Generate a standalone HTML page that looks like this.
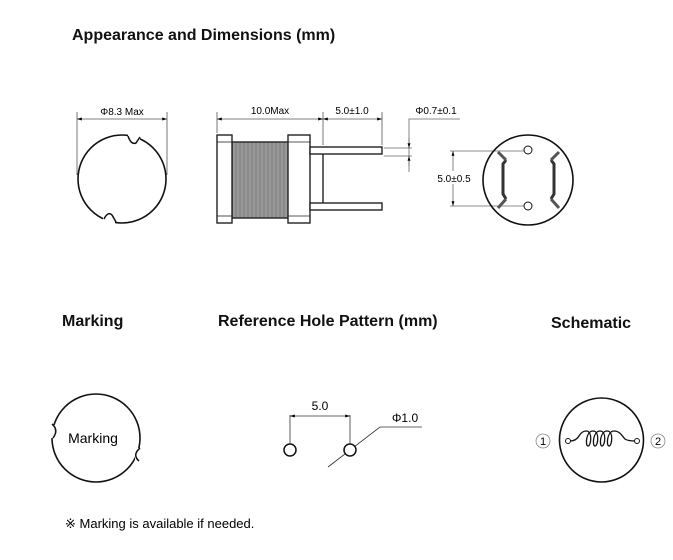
<!DOCTYPE html>
<html><head><meta charset="utf-8"><style>
body{margin:0;background:#fff;}
svg{display:block;font-family:"Liberation Sans",sans-serif;}
</style></head><body>
<svg width="673" height="560" viewBox="0 0 673 560" xmlns="http://www.w3.org/2000/svg">
<defs>
<marker id="a" viewBox="0 0 10 10" refX="10" refY="5" markerWidth="6" markerHeight="6" orient="auto-start-reverse"><path d="M0,2 L10,5 L0,8z" fill="#000"/></marker>
</defs>
<g font-weight="bold" font-size="16" fill="#111">
<text x="72" y="40">Appearance and Dimensions (mm)</text>
<text x="62" y="326">Marking</text>
<text x="218" y="326">Reference Hole Pattern (mm)</text>
<text x="551" y="328">Schematic</text>
</g>
<!-- left circle -->
<g stroke="#555" stroke-width="0.8" fill="none">
<line x1="77" y1="112" x2="77" y2="175"/><line x1="167" y1="112" x2="167" y2="175"/>
<line x1="77" y1="119" x2="167" y2="119" marker-start="url(#a)" marker-end="url(#a)"/>
</g>
<text x="122" y="115" font-size="10" text-anchor="middle">Φ8.3 Max</text>
<circle cx="122" cy="179" r="44" fill="none" stroke="#111" stroke-width="1.6"/>
<rect x="128" y="132" width="12" height="12" fill="#fff"/>
<path d="M128,136 Q131,145 136,143 L140,137" fill="none" stroke="#111" stroke-width="1.5"/>
<rect x="103" y="214" width="12" height="12" fill="#fff"/>
<path d="M104,219 Q108,211 112,215 L116,222" fill="none" stroke="#111" stroke-width="1.5"/>
<!-- side view -->
<g stroke="#555" stroke-width="0.8" fill="none">
<line x1="217" y1="112" x2="217" y2="133"/><line x1="323" y1="112" x2="323" y2="145"/><line x1="382" y1="112" x2="382" y2="145"/>
<line x1="217" y1="119" x2="323" y2="119" marker-start="url(#a)" marker-end="url(#a)"/>
<line x1="323" y1="119" x2="382" y2="119" marker-start="url(#a)" marker-end="url(#a)"/>
</g>
<text x="270" y="114" font-size="10" text-anchor="middle">10.0Max</text>
<text x="352" y="114" font-size="10" text-anchor="middle">5.0±1.0</text>
<g stroke="#222" stroke-width="1.4" fill="#fff">
<rect x="232" y="142" width="58" height="76" fill="#999"/>
<rect x="217" y="135" width="15" height="88"/>
<rect x="288" y="135" width="22" height="88"/>
<rect x="310" y="147" width="72" height="7"/>
<rect x="310" y="203" width="72" height="7"/>
<line x1="323" y1="154" x2="323" y2="203"/>
<line x1="288" y1="142" x2="310" y2="142" stroke-width="0.8"/>
<line x1="288" y1="216" x2="310" y2="216" stroke-width="0.8"/>
<line x1="217" y1="142" x2="232" y2="142" stroke-width="0.8"/>
<line x1="217" y1="216" x2="232" y2="216" stroke-width="0.8"/>
</g>
<g stroke="#666" stroke-width="0.6">
<line x1="236" y1="143" x2="236" y2="217"/><line x1="240" y1="143" x2="240" y2="217"/><line x1="244" y1="143" x2="244" y2="217"/><line x1="248" y1="143" x2="248" y2="217"/><line x1="252" y1="143" x2="252" y2="217"/><line x1="256" y1="143" x2="256" y2="217"/><line x1="260" y1="143" x2="260" y2="217"/><line x1="264" y1="143" x2="264" y2="217"/><line x1="268" y1="143" x2="268" y2="217"/><line x1="272" y1="143" x2="272" y2="217"/><line x1="276" y1="143" x2="276" y2="217"/><line x1="280" y1="143" x2="280" y2="217"/><line x1="284" y1="143" x2="284" y2="217"/>
</g>
<!-- pin diameter -->
<g stroke="#666" stroke-width="0.8" fill="none">
<line x1="384" y1="148" x2="412" y2="148"/><line x1="384" y1="156" x2="412" y2="156"/>
<polyline points="460,119 409,119 409,172"/>
<line x1="409" y1="138" x2="409" y2="148" marker-end="url(#a)"/>
<line x1="409" y1="166" x2="409" y2="156" marker-end="url(#a)"/>
<line x1="453" y1="151" x2="453" y2="206" marker-start="url(#a)" marker-end="url(#a)"/>
<line x1="450" y1="151" x2="525" y2="151"/><line x1="450" y1="206" x2="525" y2="206"/>
</g>
<text x="436" y="114" font-size="10" text-anchor="middle">Φ0.7±0.1</text>
<rect x="432" y="171" width="44" height="13" fill="#fff"/>
<text x="454" y="182" font-size="10" text-anchor="middle">5.0±0.5</text>
<!-- bottom view -->
<circle cx="528" cy="180" r="45" fill="none" stroke="#111" stroke-width="1.6"/>
<path d="M506,160 L503,164 L503,194 L506,199 M551,160 L554,164 L554,194 L551,199" fill="none" stroke="#333" stroke-width="3"/>
<path d="M498,152 L506,160 M498,208 L506,199 M559,152 L551,160 M559,208 L551,199" stroke="#555" stroke-width="3"/>
<circle cx="528" cy="150" r="4" fill="#fff" stroke="#111"/><circle cx="528" cy="206" r="4" fill="#fff" stroke="#111"/>
<!-- marking -->
<circle cx="96" cy="438" r="44" fill="none" stroke="#111" stroke-width="1.6"/>
<rect x="48" y="425" width="9" height="13" fill="#fff"/><path d="M52,424 Q59,430 53,438" fill="none" stroke="#111" stroke-width="1.5"/>
<rect x="135" y="448" width="9" height="13" fill="#fff"/><path d="M140,448 Q132,455 139,461" fill="none" stroke="#111" stroke-width="1.5"/>
<text x="93" y="443" font-size="14" text-anchor="middle">Marking</text>
<!-- hole pattern -->
<g stroke="#333" stroke-width="0.8" fill="none">
<line x1="290" y1="415" x2="290" y2="443"/><line x1="350" y1="415" x2="350" y2="443"/>
<line x1="290" y1="416" x2="350" y2="416" marker-start="url(#a)" marker-end="url(#a)"/>
<polyline points="328,467 380,427 422,427"/>
</g>
<circle cx="290" cy="450" r="6" fill="none" stroke="#111" stroke-width="1.5"/>
<circle cx="350" cy="450" r="6" fill="#fff" stroke="#111" stroke-width="1.5"/>
<text x="320" y="410" font-size="12" text-anchor="middle">5.0</text>
<text x="405" y="422" font-size="12" text-anchor="middle">Φ1.0</text>
<!-- schematic -->
<circle cx="601.5" cy="440" r="42" fill="none" stroke="#111" stroke-width="1.6"/>
<circle cx="568" cy="441" r="2.5" fill="#fff" stroke="#111"/><circle cx="637" cy="441" r="2.5" fill="#fff" stroke="#111"/>
<path d="M570,441 Q576,441 579,436 Q582,431 586,431 C593,431 591,446 588,446 C585,446 586,431 593,431 C600,431 598,446 595,446 C592,446 593,431 600,431 C607,431 605,446 602,446 C599,446 600,431 607,431 C614,431 612,446 609,446 C606,446 607,431 614,431 C620,431 622,436 625,439 Q628,441 635,441" fill="none" stroke="#111" stroke-width="1.3"/>
<circle cx="543" cy="441" r="7" fill="none" stroke="#888" stroke-width="0.8"/><text x="543" y="445" font-size="11" text-anchor="middle">1</text>
<circle cx="658" cy="441" r="7" fill="none" stroke="#888" stroke-width="0.8"/><text x="658" y="445" font-size="11" text-anchor="middle">2</text>
<text x="65" y="528" font-size="13">※ Marking is available if needed.</text>
</svg>
</body></html>
